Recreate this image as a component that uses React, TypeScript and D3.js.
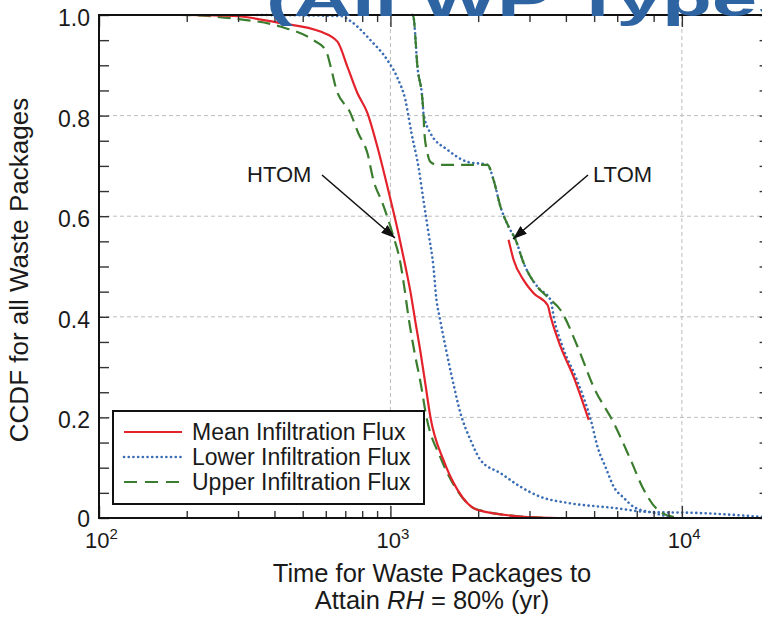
import React, { useEffect, useRef } from "react";
import * as d3 from "d3";

type Pt = [number, number];

// Time (yr) vs CCDF
const meanHTOM: Pt[] = [[200,1.0],[290,0.998],[419,0.984],[575,0.967],[658,0.947],[712,0.897],[770,0.845],[834,0.805],[902,0.738],[977,0.658],[1065,0.566],[1126,0.5],[1171,0.45],[1218,0.39],[1268,0.33],[1319,0.265],[1372,0.2],[1521,0.115],[1699,0.056],[1991,0.016],[2957,0.002],[3749,0]];
const meanLTOM: Pt[] = [[2544,0.553],[2647,0.513],[2864,0.473],[3100,0.447],[3464,0.423],[3546,0.40],[3839,0.34],[4256,0.28],[4790,0.195]];
const lowerHTOM: Pt[] = [[349,1.0],[673,0.998],[729,0.988],[854,0.95],[977,0.91],[1057,0.875],[1126,0.83],[1181,0.765],[1248,0.698],[1298,0.632],[1351,0.566],[1405,0.499],[1439,0.433],[1474,0.40],[1545,0.34],[1634,0.274],[1740,0.208],[1883,0.155],[2039,0.115],[2388,0.089],[2797,0.062],[3278,0.042],[4056,0.03],[5839,0.02],[7641,0.012],[11350,0.01],[18980,0.002]];
const lowerLTOM: Pt[] = [[1190,1.0],[1200,0.996],[1238,0.897],[1288,0.831],[1298,0.805],[1372,0.765],[1570,0.732],[1839,0.708],[2154,0.702],[2259,0.672],[2388,0.618],[2544,0.579],[2689,0.553],[2864,0.507],[3201,0.459],[3546,0.433],[3632,0.40],[3900,0.34],[4323,0.28],[4867,0.195],[5145,0.14],[5481,0.10],[5839,0.062],[6320,0.04],[6841,0.022],[8013,0.01],[9387,0]];
const upperHTOM: Pt[] = [[116,1.0],[190,1.0],[289,0.993],[419,0.977],[544,0.95],[600,0.93],[625,0.895],[650,0.855],[729,0.805],[776,0.765],[834,0.725],[874,0.672],[939,0.626],[1016,0.566],[1082,0.507],[1115,0.46],[1153,0.40],[1209,0.33],[1268,0.27],[1330,0.2],[1485,0.12],[1673,0.06],[1959,0.018],[2797,0.003],[3546,0]];
const upperLTOM: Pt[] = [[1190,1.0],[1200,0.996],[1238,0.897],[1288,0.831],[1298,0.805],[1308,0.765],[1340,0.725],[1372,0.708],[1450,0.702],[2154,0.702],[2259,0.672],[2388,0.618],[2544,0.579],[2689,0.553],[2864,0.507],[3201,0.459],[3464,0.439],[3839,0.413],[4391,0.34],[4984,0.26],[5839,0.189],[6679,0.115],[7402,0.056],[8271,0.016],[9387,0.002]];

const legendLabels = ["Mean Infiltration Flux", "Lower Infiltration Flux", "Upper Infiltration Flux"];
const yTickLabels = [0, 0.2, 0.4, 0.6, 0.8, 1.0];
const xMajorTicks = [100, 1000, 10000];
const xTickExponents = ["2", "3", "4"];
const xMinorTicks = [200,300,400,500,600,700,800,900,2000,3000,4000,5000,6000,7000,8000,9000];
const yGrid = [0.2, 0.4, 0.6, 0.8];

const FONT = "'Liberation Sans', Arial, Helvetica, sans-serif";
const RED = "#E3222B";
const BLUE = "#3A6DB3";
const GREEN = "#3A7D2E";

export default function App() {
  const ref = useRef<SVGSVGElement>(null);
  useEffect(() => {
    const svg = d3.select(ref.current!);
    svg.selectAll("*").remove();
    const L = 99, R = 769.6, T = 15, B = 518;
    const x = d3.scaleLog().domain([100, 20000]).range([L, R]);
    const y = d3.scaleLinear().domain([0, 1]).range([B, T]);

    svg.append("rect").attr("width", 762).attr("height", 617).attr("fill", "#fff");

    const defs = svg.append("defs");
    defs.append("marker").attr("id", "arrow").attr("viewBox", "0 0 14 10")
      .attr("refX", 14).attr("refY", 5).attr("markerWidth", 14).attr("markerHeight", 10)
      .attr("markerUnits", "userSpaceOnUse").attr("orient", "auto")
      .append("path").attr("d", "M0,0 L14,5 L0,10 Z").attr("fill", "#111");

    // grid
    const g = svg.append("g");
    g.selectAll(".gy").data(yGrid).join("line")
      .attr("x1", L).attr("x2", R).attr("y1", d => y(d)).attr("y2", d => y(d))
      .attr("stroke", "#bdbdbd").attr("stroke-width", 1).attr("stroke-dasharray", "4,3");
    g.selectAll(".gx").data([1000, 10000]).join("line")
      .attr("x1", d => x(d)).attr("x2", d => x(d)).attr("y1", T).attr("y2", B)
      .attr("stroke", "#bdbdbd").attr("stroke-width", 1).attr("stroke-dasharray", "4,3");

    // curves
    const line = d3.line<Pt>().x(d => x(d[0])).y(d => y(d[1])).curve(d3.curveMonotoneX);
    const curves: { data: Pt[]; color: string; dash: string; w: number; cap: string }[] = [
      { data: lowerHTOM, color: BLUE, dash: "0.1,4.6", w: 2.6, cap: "round" },
      { data: lowerLTOM, color: BLUE, dash: "0.1,4.6", w: 2.6, cap: "round" },
      { data: upperHTOM, color: GREEN, dash: "13,7", w: 2.2, cap: "butt" },
      { data: upperLTOM, color: GREEN, dash: "13,7", w: 2.2, cap: "butt" },
      { data: meanHTOM, color: RED, dash: "", w: 2.2, cap: "butt" },
      { data: meanLTOM, color: RED, dash: "", w: 2.2, cap: "butt" },
    ];
    curves.forEach(c => {
      svg.append("path").attr("d", line(c.data)!).attr("fill", "none")
        .attr("stroke", c.color).attr("stroke-width", c.w)
        .attr("stroke-dasharray", c.dash || null).attr("stroke-linecap", c.cap);
    });

    // axes ticks
    const tickStyle = (sel: any) => {
      sel.select(".domain").remove();
      sel.selectAll("line").attr("stroke", "#333").attr("stroke-width", 1.4);
    };
    svg.append("g").attr("transform", `translate(0,${B})`)
      .call(d3.axisBottom(x).tickValues(xMinorTicks).tickSize(-7).tickFormat(() => "")).call(tickStyle);
    svg.append("g").attr("transform", `translate(0,${B})`)
      .call(d3.axisBottom(x).tickValues(xMajorTicks).tickSize(-12).tickFormat(() => "")).call(tickStyle);
    svg.append("g").attr("transform", `translate(0,${T})`)
      .call(d3.axisTop(x).tickValues(xMinorTicks).tickSize(-7).tickFormat(() => "")).call(tickStyle);
    svg.append("g").attr("transform", `translate(0,${T})`)
      .call(d3.axisTop(x).tickValues(xMajorTicks).tickSize(-12).tickFormat(() => "")).call(tickStyle);
    const yt = d3.range(0, 1.0001, 0.05);
    svg.append("g").attr("transform", `translate(${L},0)`)
      .call(d3.axisLeft(y).tickValues(yt).tickSize(-10).tickFormat(() => "")).call(tickStyle);
    svg.append("g").attr("transform", `translate(${R},0)`)
      .call(d3.axisRight(y).tickValues(yt).tickSize(-10).tickFormat(() => "")).call(tickStyle);

    // frame
    svg.append("rect").attr("x", L).attr("y", T).attr("width", R - L).attr("height", B - T)
      .attr("fill", "none").attr("stroke", "#111").attr("stroke-width", 2);

    // y tick labels
    svg.selectAll(".ytl").data(yTickLabels).join("text")
      .attr("x", 90).attr("y", d => y(d) + (d === 0 ? 9 : 11)).attr("text-anchor", "end")
      .attr("font-family", FONT).attr("font-size", 23).attr("fill", "#1a1a1a")
      .text(d => (d === 0 ? "0" : d3.format(".1f")(d)));

    // x tick labels
    xMajorTicks.forEach((v, i) => {
      const t = svg.append("text").attr("x", x(v) - 14).attr("y", 548)
        .attr("font-family", FONT).attr("font-size", 22).attr("fill", "#1a1a1a");
      t.append("tspan").text("10");
      t.append("tspan").attr("font-size", 15).attr("dy", -9).text(xTickExponents[i]);
    });

    // axis titles
    svg.append("text").attr("transform", "translate(28,270) rotate(-90)")
      .attr("text-anchor", "middle").attr("font-family", FONT).attr("font-size", 26).attr("fill", "#1a1a1a")
      .text("CCDF for all Waste Packages");
    svg.append("text").attr("x", 432).attr("y", 582).attr("text-anchor", "middle")
      .attr("font-family", FONT).attr("font-size", 25.5).attr("fill", "#1a1a1a")
      .text("Time for Waste Packages to");
    const xl2 = svg.append("text").attr("x", 432).attr("y", 609).attr("text-anchor", "middle")
      .attr("font-family", FONT).attr("font-size", 25.5).attr("fill", "#1a1a1a");
    xl2.append("tspan").text("Attain ");
    xl2.append("tspan").attr("font-style", "italic").text("RH");
    xl2.append("tspan").text(" = 80% (yr)");

    // legend
    const lg = svg.append("g");
    lg.append("rect").attr("x", 113).attr("y", 411).attr("width", 311).attr("height", 93)
      .attr("fill", "#fff").attr("stroke", "#111").attr("stroke-width", 2);
    const legStyles = [
      { color: RED, dash: "", w: 2.2, cap: "butt" },
      { color: BLUE, dash: "0.1,4.6", w: 2.6, cap: "round" },
      { color: GREEN, dash: "13,8", w: 2.2, cap: "butt" },
    ];
    legendLabels.forEach((lab, i) => {
      const cy = 432 + i * 25;
      const s = legStyles[i];
      lg.append("line").attr("x1", 124).attr("x2", 182).attr("y1", cy).attr("y2", cy)
        .attr("stroke", s.color).attr("stroke-width", s.w)
        .attr("stroke-dasharray", s.dash || null).attr("stroke-linecap", s.cap);
      lg.append("text").attr("x", 192).attr("y", cy + 8).attr("font-family", FONT)
        .attr("font-size", 23).attr("fill", "#1a1a1a").text(lab);
    });

    // annotations
    svg.append("text").attr("x", 247).attr("y", 182).attr("font-family", FONT)
      .attr("font-size", 22).attr("fill", "#1a1a1a").text("HTOM");
    svg.append("line").attr("x1", 322).attr("y1", 175).attr("x2", 395).attr("y2", 238)
      .attr("stroke", "#111").attr("stroke-width", 1.6).attr("marker-end", "url(#arrow)");
    svg.append("text").attr("x", 593).attr("y", 182).attr("font-family", FONT)
      .attr("font-size", 22).attr("fill", "#1a1a1a").text("LTOM");
    svg.append("line").attr("x1", 588).attr("y1", 175).attr("x2", 513).attr("y2", 239)
      .attr("stroke", "#111").attr("stroke-width", 1.6).attr("marker-end", "url(#arrow)");

    // clipped slide title
    svg.append("text").attr("transform", "translate(266,16) scale(1.7,1)")
      .attr("font-family", FONT).attr("font-weight", "bold").attr("font-size", 48)
      .attr("fill", "#2F64A3").text("(All WP Types)");
  }, []);
  return (
    <svg ref={ref} width={762} height={617}
      style={{ position: "absolute", left: 0, top: 0, display: "block" }} />
  );
}
